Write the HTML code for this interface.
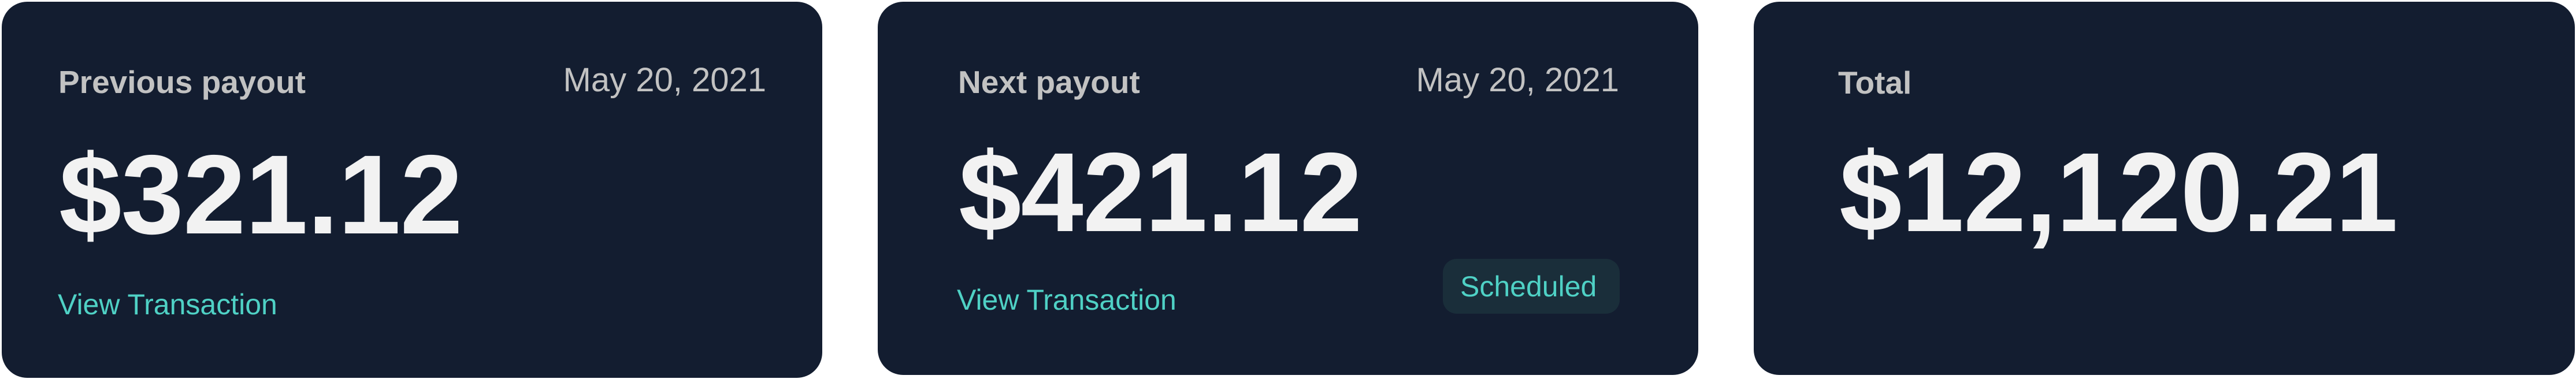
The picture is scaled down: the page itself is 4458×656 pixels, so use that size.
<!DOCTYPE html>
<html><head><meta charset="utf-8">
<style>
html,body{margin:0;padding:0;background:#fff;}
body{width:4458px;height:656px;position:relative;overflow:hidden;font-family:"Liberation Sans",sans-serif;}
.card{position:absolute;background:#131d30;border-radius:44px;}
.t{position:absolute;white-space:nowrap;}
.lbl{font-size:55px;line-height:55px;font-weight:bold;color:#c2c2c2;}
.date{font-size:58px;line-height:58px;color:#c2c2c2;}
.amt{font-size:195px;line-height:195px;font-weight:bold;color:#f2f2f2;letter-spacing:-1px;}
.link{font-size:50px;line-height:50px;color:#4fd1c5;}
.badge{position:absolute;background:#1a2e3a;border-radius:24px;}
</style></head><body>
<div class="card" style="left:3px;top:3px;width:1420px;height:651px;"></div>
<div class="t lbl" style="left:101px;top:115px;">Previous payout</div>
<div class="t date" style="right:3132px;top:110px;">May 20, 2021</div>
<div class="t amt" style="left:102px;top:240px;">$321.12</div>
<div class="t link" style="left:100px;top:502px;">View Transaction</div>

<div class="card" style="left:1519px;top:3px;width:1420px;height:646px;"></div>
<div class="t lbl" style="left:1658px;top:115px;">Next payout</div>
<div class="t date" style="right:1656px;top:110px;">May 20, 2021</div>
<div class="t amt" style="left:1659px;top:236px;">$421.12</div>
<div class="t link" style="left:1656px;top:494px;">View Transaction</div>
<div class="badge" style="left:2497px;top:448px;width:306px;height:95px;"></div>
<div class="t link" style="left:2527px;top:471px;">Scheduled</div>

<div class="card" style="left:3035px;top:3px;width:1421px;height:646px;"></div>
<div class="t lbl" style="left:3181px;top:116px;">Total</div>
<div class="t amt" style="left:3183px;top:236px;">$12,120.21</div>
</body></html>
